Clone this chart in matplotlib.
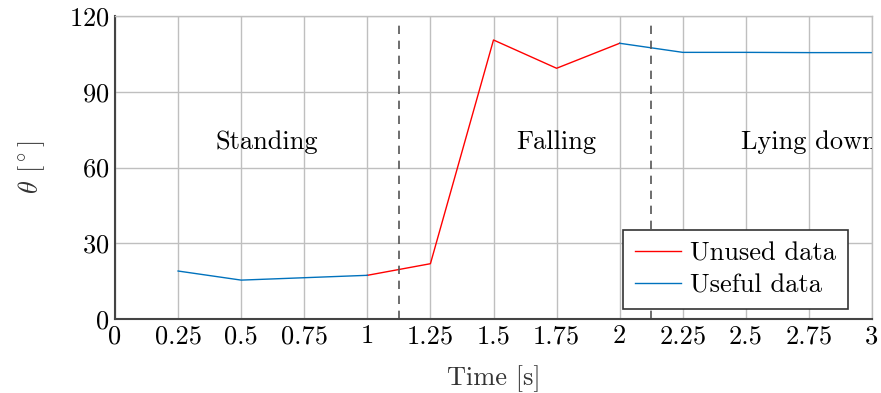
import matplotlib
matplotlib.use("Agg")
import matplotlib.pyplot as plt

plt.rcParams['font.family'] = 'serif'
plt.rcParams['font.serif'] = ['cmr10', 'DejaVu Serif']
plt.rcParams['mathtext.fontset'] = 'cm'
plt.rcParams['axes.formatter.use_mathtext'] = True

# Data
t_useful_1 = [0.25, 0.5, 1.0]
theta_useful_1 = [19.0, 15.4, 17.3]
t_unused = [1.0, 1.25, 1.5, 1.75, 2.0]
theta_unused = [17.3, 21.9, 110.5, 99.3, 109.2]
t_useful_2 = [2.0, 2.25, 2.5, 2.75, 3.0]
theta_useful_2 = [109.2, 105.6, 105.6, 105.5, 105.5]
boundaries = [1.125, 2.125]
phase_labels = ["Standing", "Falling", "Lying down"]
phase_x = [0.6, 1.75, 2.75]
phase_y = 70
xticks = [0, 0.25, 0.5, 0.75, 1, 1.25, 1.5, 1.75, 2, 2.25, 2.5, 2.75, 3]
xticklabels = ["0", "0.25", "0.5", "0.75", "1", "1.25", "1.5", "1.75", "2", "2.25", "2.5", "2.75", "3"]
yticks = [0, 30, 60, 90, 120]

FS = 19

fig = plt.figure(figsize=(8.81, 3.93), dpi=100)
ax = fig.add_axes([115/881, 1-319/393, (872-115)/881, (319-16)/393])

blue = '#0072BD'
ax.plot(t_unused, theta_unused, color='red', lw=1.0, label='Unused data')
ax.plot(t_useful_1, theta_useful_1, color=blue, lw=1.0, label='Useful data')
ax.plot(t_useful_2, theta_useful_2, color=blue, lw=1.0)

for b in boundaries:
    ax.plot([b, b], [0, 117], color='#555555', lw=1.2, dashes=(5, 4))

for lab, x in zip(phase_labels, phase_x):
    ax.text(x, phase_y, lab, ha='center', va='center', fontsize=FS, clip_on=True)

ax.set_xlim(0, 3)
ax.set_ylim(0, 120)
ax.set_xticks(xticks)
ax.set_xticklabels(xticklabels)
ax.set_yticks(yticks)
ax.tick_params(axis='both', length=0, labelsize=FS, pad=4)
ax.grid(True, color='#bfbfbf', lw=1.0)
ax.set_axisbelow(True)
for s in ['top', 'right']:
    ax.spines[s].set_color('#bfbfbf')
    ax.spines[s].set_linewidth(1.0)
for s in ['left', 'bottom']:
    ax.spines[s].set_color('#444444')
    ax.spines[s].set_linewidth(1.5)

ax.set_xlabel('Time [s]', fontsize=FS, color='#333333', labelpad=12)
ax.set_ylabel(r'$\theta$ [$^\circ$]', fontsize=FS, color='#333333', labelpad=16)

leg = ax.legend(loc='lower right', fontsize=FS, frameon=True, fancybox=False,
                edgecolor='#333333', framealpha=1, handlelength=1.75,
                borderpad=0.45, labelspacing=0.3, handletextpad=0.35,
                borderaxespad=0, bbox_to_anchor=(0.968, 0.033))
leg.get_frame().set_linewidth(1.2)

fig.savefig('out.png', dpi=100)
